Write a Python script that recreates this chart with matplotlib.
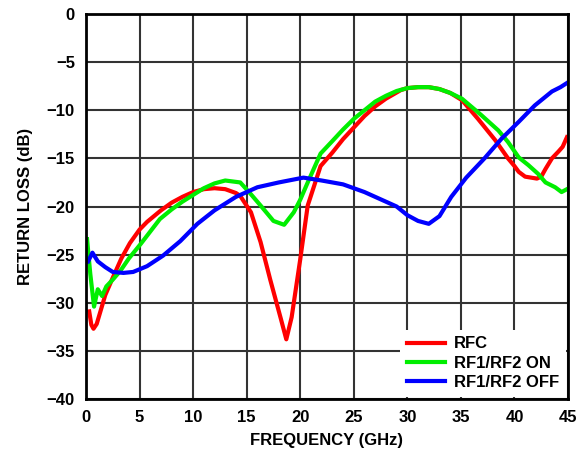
import matplotlib
matplotlib.use("Agg")
import matplotlib.pyplot as plt

# RFC return loss (GHz, dB)
rfcFreq = [0.3, 0.5, 0.7, 1.0, 1.4, 1.8, 2.5, 3.3, 4.1, 5.0, 5.7, 7.0, 8.0, 9.0,
           10.0, 11.0, 12.0, 13.0, 14.0, 14.4, 15.4, 16.3, 17.2, 18.2, 18.7,
           19.2, 20.0, 20.7, 21.9, 23.0, 24.0, 25.0, 26.0, 27.0, 28.0, 29.4,
           30.0, 31.0, 32.0, 33.0, 34.0, 35.1, 36.6, 38.2, 39.4, 40.0, 40.4,
           41.0, 42.1, 42.5, 42.9, 43.5, 44.1, 44.5, 44.9]
rfcLoss = [-30.9, -32.3, -32.7, -32.2, -30.7, -29.2, -27.4, -25.4, -23.8, -22.4,
           -21.6, -20.4, -19.6, -19.0, -18.5, -18.2, -18.1, -18.2, -18.6, -18.9,
           -20.6, -23.7, -27.6, -31.7, -33.8, -31.5, -25.5, -19.9, -15.8, -14.4,
           -13.0, -11.8, -10.6, -9.6, -8.8, -7.9, -7.7, -7.6, -7.6, -7.8, -8.2,
           -8.95, -10.9, -13.1, -15.0, -15.8, -16.4, -16.9, -17.1, -16.9, -16.1,
           -15.0, -14.3, -13.8, -12.8]

# RF1/RF2 ON
onFreq = [0.1, 0.4, 0.75, 1.1, 1.5, 1.9, 2.5, 3.2, 4.0, 5.1, 6.0, 6.9, 8.0,
          9.0, 10.0, 11.0, 12.0, 13.0, 14.4, 15.3, 16.3, 17.5, 18.5, 19.4,
          20.0, 20.7, 21.9, 23.0, 24.0, 25.0, 26.0, 27.0, 28.0, 29.0, 30.0,
          31.0, 32.0, 33.0, 34.0, 35.1, 36.9, 38.5, 39.4, 40.4, 41.3, 42.2,
          42.9, 43.8, 44.4, 44.9]
onLoss = [-23.4, -27.0, -30.4, -28.6, -29.3, -28.3, -27.6, -26.7, -25.4, -23.9,
          -22.6, -21.3, -20.3, -19.5, -18.8, -18.1, -17.6, -17.3, -17.5, -18.6,
          -19.9, -21.5, -21.9, -20.6, -19.3, -17.5, -14.5, -13.2, -12.0, -10.9,
          -10.0, -9.1, -8.5, -8.0, -7.7, -7.6, -7.6, -7.8, -8.2, -8.8, -10.5,
          -12.1, -13.3, -14.9, -15.7, -16.6, -17.5, -18.0, -18.5, -18.2]

# RF1/RF2 OFF
offFreq = [0.2, 0.6, 1.1, 1.8, 2.5, 3.5, 4.4, 5.7, 7.2, 8.8, 10.4, 12.0, 14.0,
           16.0, 18.0, 20.3, 22.0, 24.0, 26.0, 28.0, 29.0, 30.0, 31.0, 32.0,
           33.0, 34.1, 35.5, 37.2, 38.8, 40.4, 41.9, 43.5, 44.3, 45.0]
offLoss = [-25.7, -24.8, -25.7, -26.3, -26.8, -26.9, -26.8, -26.2, -25.1, -23.6,
           -21.8, -20.4, -19.0, -18.0, -17.5, -17.0, -17.3, -17.7, -18.5, -19.5,
           -20.0, -20.9, -21.5, -21.8, -21.0, -19.0, -17.0, -15.0, -12.95, -11.2,
           -9.5, -8.05, -7.6, -7.1]

xTicks = [0, 5, 10, 15, 20, 25, 30, 35, 40, 45]
yTicks = [0, -5, -10, -15, -20, -25, -30, -35, -40]

plt.rcParams['font.family'] = ['Liberation Sans', 'DejaVu Sans']
plt.rcParams['font.weight'] = 'bold'

fig = plt.figure(figsize=(5.82, 4.5), dpi=100)
ax = fig.add_axes([86 / 582, 1 - 399 / 450, 482 / 582, 385 / 450])

ax.plot(rfcFreq, rfcLoss, color='#ff0000', lw=3, label='RFC', zorder=3)
ax.plot(onFreq, onLoss, color='#00ee00', lw=3, label='RF1/RF2 ON', zorder=3)
ax.plot(offFreq, offLoss, color='#0000ff', lw=3, label='RF1/RF2 OFF', zorder=3)

ax.set_xlim(0, 45)
ax.set_ylim(-40, 0)
ax.set_xticks(xTicks)
ax.set_yticks(yTicks)
ax.set_yticklabels(['0' if v == 0 else '\u2212' + str(-v) for v in yTicks])
ax.grid(True, color='#333333', lw=1.5)
ax.tick_params(length=0, labelsize=12, pad=8)
for lab in ax.get_xticklabels() + ax.get_yticklabels():
    lab.set_fontweight('bold')
for s in ax.spines.values():
    s.set_linewidth(2)
    s.set_zorder(6)

ax.set_xlabel('FREQUENCY (GHz)', fontsize=12, fontweight='bold', labelpad=6)
ax.set_ylabel('RETURN LOSS (dB)', fontsize=12, fontweight='bold', labelpad=10)

leg = ax.legend(loc='lower right', frameon=True, fancybox=False, framealpha=1,
                edgecolor='white', fontsize=12, handlelength=2.3,
                borderaxespad=0.15, labelspacing=0.25, handletextpad=0.5)
leg.get_frame().set_linewidth(0)
for t in leg.get_texts():
    t.set_fontweight('bold')
leg.set_zorder(5)

fig.savefig('out.png', dpi=100)
